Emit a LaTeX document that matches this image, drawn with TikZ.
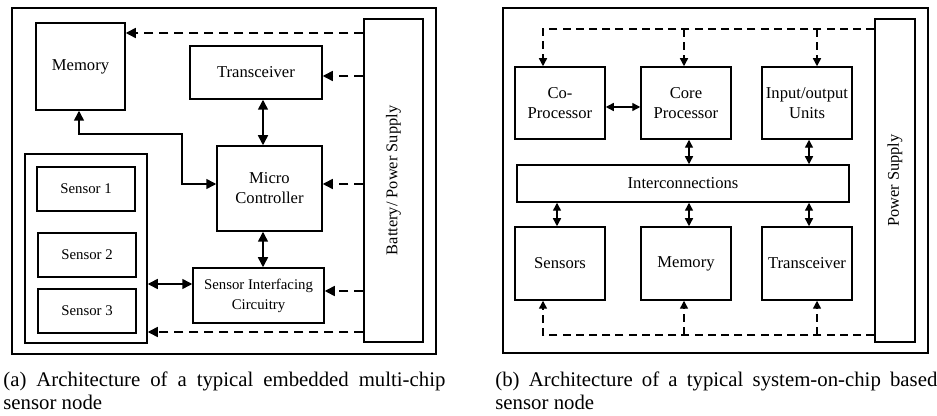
\documentclass[tikz,border=0pt]{standalone}
\usepackage{fontspec}
\setmainfont{Liberation Serif}
\usetikzlibrary{arrows.meta}
\begin{document}
\begin{tikzpicture}[x=0.5pt,y=-0.5pt,
  box/.style={draw, line width=0.75pt, inner sep=0pt, align=center,
    font=\fontsize{8.3pt}{10pt}\selectfont},
  small/.style={font=\fontsize{7.4pt}{10pt}\selectfont},
  txt/.style={inner sep=0pt, align=center, font=\fontsize{8.2pt}{10pt}\selectfont},
  sz/.style args={#1 by #2}{minimum width=#1*0.5pt, minimum height=#2*0.5pt},
  bia/.style={{Triangle[length=5pt,width=5pt]}-{Triangle[length=5pt,width=5pt]}, line width=0.75pt},
  pwa/.style={-{Triangle[length=5pt,width=5pt]}, dash pattern=on 4.5pt off 3pt, line width=0.75pt},
  bib/.style={{Triangle[length=4pt,width=4pt]}-{Triangle[length=4pt,width=4pt]}, line width=0.7pt},
  pwb/.style={-{Triangle[length=4pt,width=4pt]}, dash pattern=on 4pt off 2.6pt, line width=0.7pt},
  caption/.style={inner sep=0pt, anchor=north west, text width=221pt, align=justify,
    font=\fontsize{10.4pt}{11.5pt}\selectfont}
]
\useasboundingbox (0,0) rectangle (937,416);

% ---------- (a) multi-chip sensor node ----------
\node[box, sz=424 by 346] (fa) at (224,181) {};
\node[box, sz=59 by 323] (bat) at (393.5,180.5) {};
\node[txt, rotate=90] (battxt) at (bat.center) {Battery/ Power Supply};
\node[box, sz=89 by 87] (mem) at (80.5,66.5) {Memory};
\node[box, sz=132 by 53] (trx) at (256,72.5) {Transceiver};
\node[box, sz=105 by 85] (mc) at (269.5,188.5) {Micro\\Controller};
\node[box, sz=122 by 189] (sgrp) at (86,248.5) {};
\node[box, small, sz=98 by 44] (s1) at (86,189) {Sensor 1};
\node[box, small, sz=98 by 44] (s2) at (87,255) {Sensor 2};
\node[box, small, sz=98 by 44] (s3) at (87,311) {Sensor 3};
\node[box, small, sz=131 by 55] (sic) at (258.5,295.5) {Sensor Interfacing\\Circuitry};

% data paths
\draw[bia] (trx.south -| 263,0) -- (mc.north -| 263,0);
\draw[bia] (mc.south -| 263,0) -- (sic.north -| 263,0);
\draw[bia] (mem.south -| 79,0) -- (79,134) -| (182,184) -- (mc.west |- 0,184);
\draw[bia] (sgrp.east |- 0,284) -- (sic.west |- 0,284);

% power distribution
\draw[pwa] (bat.west |- 0,33) -- (mem.east |- 0,33);
\draw[pwa] (bat.west |- 0,76) -- (trx.east |- 0,76);
\draw[pwa] (bat.west |- 0,184) -- (mc.east |- 0,184);
\draw[pwa] (bat.west |- 0,291) -- (sic.east |- 0,291);
\draw[pwa] (bat.west |- 0,332) -- (sgrp.east |- 0,332);

\node[caption] (capa) at (3,371) {(a) Architecture of a typical embedded multi-chip\linebreak sensor node};

% ---------- (b) system-on-chip sensor node ----------
\node[box, sz=425 by 345] (fb) at (715.5,180.5) {};
\node[box, sz=40 by 323] (ps) at (895,180.5) {};
\node[txt, rotate=90] (pstxt) at (ps.center) {Power Supply};
\node[box, sz=90 by 72] (cop) at (560,103) {Co-\\Processor};
\node[box, sz=90 by 72] (core) at (686,103) {Core\\Processor};
\node[box, sz=90 by 72] (io) at (807,103) {Input/output\\Units};
\node[box, sz=332 by 37] (ic) at (683,183.5) {Interconnections};
\node[box, sz=90 by 73] (sens) at (560,263.5) {Sensors};
\node[box, sz=90 by 73] (memb) at (686,263.5) {Memory};
\node[box, sz=90 by 73] (trxb) at (807,263.5) {Transceiver};

% data paths
\draw[bib] (cop.east |- 0,107) -- (core.west |- 0,107);
\draw[bib] (core.south -| 689,0) -- (ic.north -| 689,0);
\draw[bib] (io.south -| 809,0) -- (ic.north -| 809,0);
\draw[bib] (ic.south -| 557,0) -- (sens.north -| 557,0);
\draw[bib] (ic.south -| 689,0) -- (memb.north -| 689,0);
\draw[bib] (ic.south -| 809,0) -- (trxb.north -| 809,0);

% power distribution, top rail
\coordinate (tj2) at (684,29);
\coordinate (tj3) at (817,29);
\draw[pwb] (ps.west |- 0,29) -| (cop.north -| 543,0);
\draw[pwb] (tj2) -- (core.north -| tj2);
\draw[pwb] (tj3) -- (io.north -| tj3);

% power distribution, bottom rail
\coordinate (bj2) at (684,335);
\coordinate (bj3) at (817,335);
\draw[pwb] (ps.west |- 0,335) -| (sens.south -| 543,0);
\draw[pwb] (bj2) -- (memb.south -| bj2);
\draw[pwb] (bj3) -- (trxb.south -| bj3);

\node[caption] (capb) at (495,371) {(b) Architecture of a typical system-on-chip based\linebreak sensor node};
\end{tikzpicture}
\end{document}
